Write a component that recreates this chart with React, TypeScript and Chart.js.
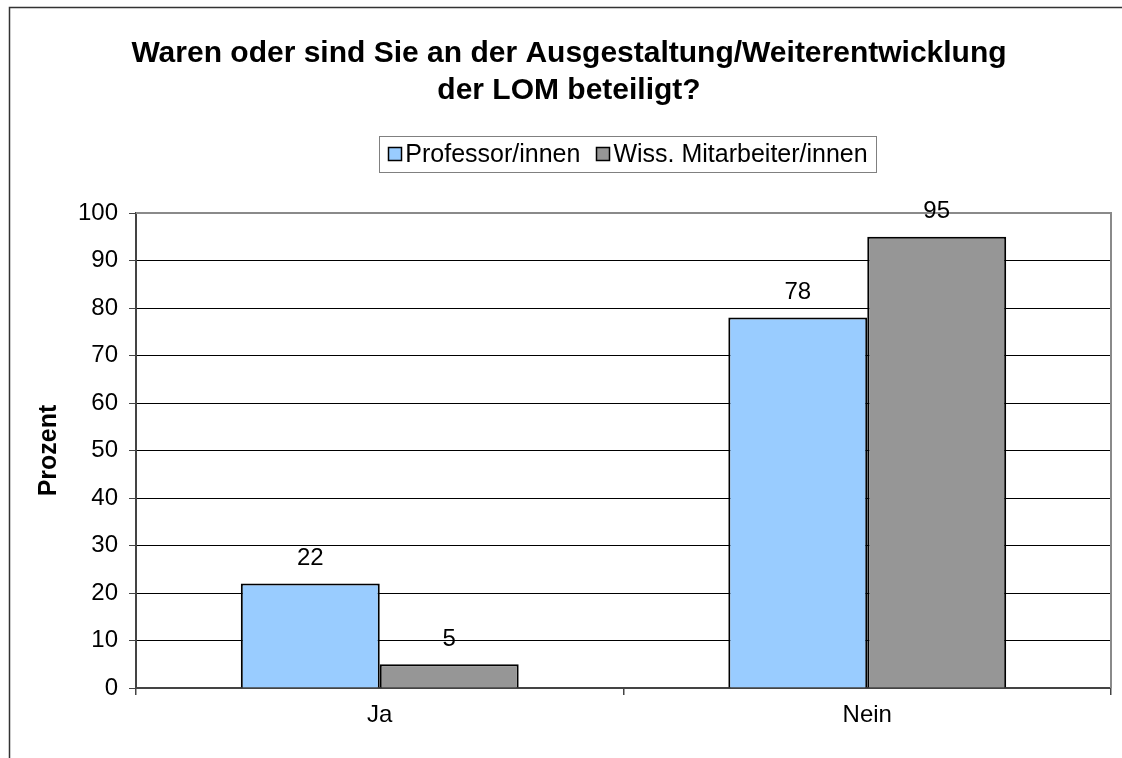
import React, { useEffect, useRef } from "react";
import { Chart, registerables } from "chart.js";

Chart.register(...registerables);

const TITLE_LINES = [
  "Waren oder sind Sie an der Ausgestaltung/Weiterentwicklung",
  "der LOM beteiligt?",
];
const CATEGORIES = ["Ja", "Nein"];
const SERIES_NAMES = ["Professor/innen", "Wiss. Mitarbeiter/innen"];
const PROFESSOREN = [22, 78];
const MITARBEITER = [5, 95];
const SERIES_COLORS = ["#99CCFF", "#969696"];
const Y_MIN = 0;
const Y_MAX = 100;
const Y_STEP = 10;
const Y_TITLE = "Prozent";

const FONT = "'Liberation Sans', Arial, Helvetica, sans-serif";

const decorPlugin = {
  id: "decor",
  beforeDraw(chart: any) {
    const { ctx, width, height } = chart;
    ctx.save();
    ctx.fillStyle = "#ffffff";
    ctx.fillRect(0, 0, width, height);
    ctx.strokeStyle = "#333333";
    ctx.lineWidth = 1.5;
    ctx.beginPath();
    ctx.moveTo(9.5, height);
    ctx.lineTo(9.5, 7.5);
    ctx.lineTo(width, 7.5);
    ctx.stroke();
    ctx.restore();
  },
  beforeDatasetsDraw(chart: any) {
    const { ctx, chartArea } = chart;
    ctx.save();
    ctx.strokeStyle = "#8a8a8a";
    ctx.lineWidth = 2;
    ctx.beginPath();
    ctx.moveTo(chartArea.left, chartArea.top);
    ctx.lineTo(chartArea.right, chartArea.top);
    ctx.lineTo(chartArea.right, chartArea.bottom);
    ctx.stroke();
    ctx.restore();
  },
  afterDraw(chart: any) {
    const { ctx } = chart;
    ctx.save();
    // Title
    ctx.fillStyle = "#000";
    ctx.font = `bold 30px ${FONT}`;
    ctx.textAlign = "center";
    ctx.textBaseline = "alphabetic";
    ctx.fillText(TITLE_LINES[0], 569, 62);
    ctx.fillText(TITLE_LINES[1], 569, 99);

    // Legend
    ctx.font = `25px ${FONT}`;
    const box = 14;
    const gapText = 3;
    const gapItem = 16;
    const datasets = chart.data.datasets;
    const widths = datasets.map((d: any) => ctx.measureText(d.label).width);
    const total =
      widths.reduce((a: number, b: number) => a + b, 0) +
      datasets.length * (box + gapText) +
      gapItem * (datasets.length - 1);
    const padX = 9;
    const cx = 628;
    const left = cx - total / 2;
    const top = 136;
    const bottom = 172;
    ctx.strokeStyle = "#808080";
    ctx.lineWidth = 1;
    ctx.strokeRect(
      Math.round(left - padX) + 0.5,
      top + 0.5,
      Math.round(total + 2 * padX),
      bottom - top
    );
    let x = left;
    const midY = (top + bottom) / 2;
    datasets.forEach((d: any, i: number) => {
      ctx.fillStyle = d.backgroundColor;
      ctx.fillRect(Math.round(x), Math.round(midY - box / 2), box, box);
      ctx.strokeStyle = "#000";
      ctx.lineWidth = 1.5;
      ctx.strokeRect(Math.round(x) + 0.5, Math.round(midY - box / 2) + 0.5, box - 1, box - 1);
      ctx.fillStyle = "#000";
      ctx.textAlign = "left";
      ctx.textBaseline = "middle";
      ctx.fillText(d.label, x + box + gapText, midY + 1);
      x += box + gapText + widths[i] + gapItem;
    });

    // Data labels
    ctx.font = `24px ${FONT}`;
    ctx.textAlign = "center";
    ctx.textBaseline = "middle";
    ctx.fillStyle = "#000";
    datasets.forEach((d: any, i: number) => {
      const meta = chart.getDatasetMeta(i);
      meta.data.forEach((el: any, j: number) => {
        ctx.fillText(String(d.data[j]), el.x, el.y - 25);
      });
    });
    ctx.restore();
  },
};

export default function App() {
  const canvasRef = useRef<HTMLCanvasElement | null>(null);

  useEffect(() => {
    const canvas = canvasRef.current;
    if (!canvas) return;
    const chart = new Chart(canvas, {
      type: "bar",
      data: {
        labels: CATEGORIES,
        datasets: [
          {
            label: SERIES_NAMES[0],
            data: PROFESSOREN,
            backgroundColor: SERIES_COLORS[0],
            borderColor: "#000",
            borderWidth: 2,
            categoryPercentage: 0.57,
            barPercentage: 1,
          },
          {
            label: SERIES_NAMES[1],
            data: MITARBEITER,
            backgroundColor: SERIES_COLORS[1],
            borderColor: "#000",
            borderWidth: 2,
            categoryPercentage: 0.57,
            barPercentage: 1,
          },
        ],
      },
      options: {
        responsive: false,
        animation: false,
        devicePixelRatio: 1,
        layout: { padding: { top: 213, right: 11, left: 0, bottom: 0 } },
        plugins: {
          legend: { display: false },
          title: { display: false },
          tooltip: { enabled: false },
        },
        scales: {
          x: {
            afterFit: (scale: any) => {
              scale.height = 70;
            },
            grid: {
              offset: true,
              drawOnChartArea: false,
              tickLength: 7,
              tickColor: "#444",
              lineWidth: 1.5,
            },
            border: { display: true, color: "#444", width: 2 },
            ticks: {
              color: "#000",
              font: { family: FONT, size: 24 },
              padding: 6,
            },
          },
          y: {
            min: Y_MIN,
            max: Y_MAX,
            afterFit: (scale: any) => {
              scale.width = 136;
            },
            grid: {
              color: (c: any) =>
                c.tick && c.tick.value === Y_MAX ? "#8a8a8a" : "#000",
              lineWidth: 1,
              tickLength: 7,
              tickColor: "#444",
            },
            border: { display: true, color: "#444", width: 2 },
            ticks: {
              stepSize: Y_STEP,
              color: "#000",
              font: { family: FONT, size: 24 },
              padding: 11,
            },
            title: {
              display: true,
              text: Y_TITLE,
              color: "#000",
              font: { family: FONT, size: 25, weight: "bold" },
              padding: { top: 34, bottom: 0 },
            },
          },
        },
      },
      plugins: [decorPlugin],
    });
    return () => chart.destroy();
  }, []);

  return (
    <div style={{ position: "fixed", left: 0, top: 0, width: 1122, height: 758 }}>
      <canvas
        ref={canvasRef}
        width={1122}
        height={758}
        style={{ display: "block", width: 1122, height: 758 }}
      />
    </div>
  );
}
